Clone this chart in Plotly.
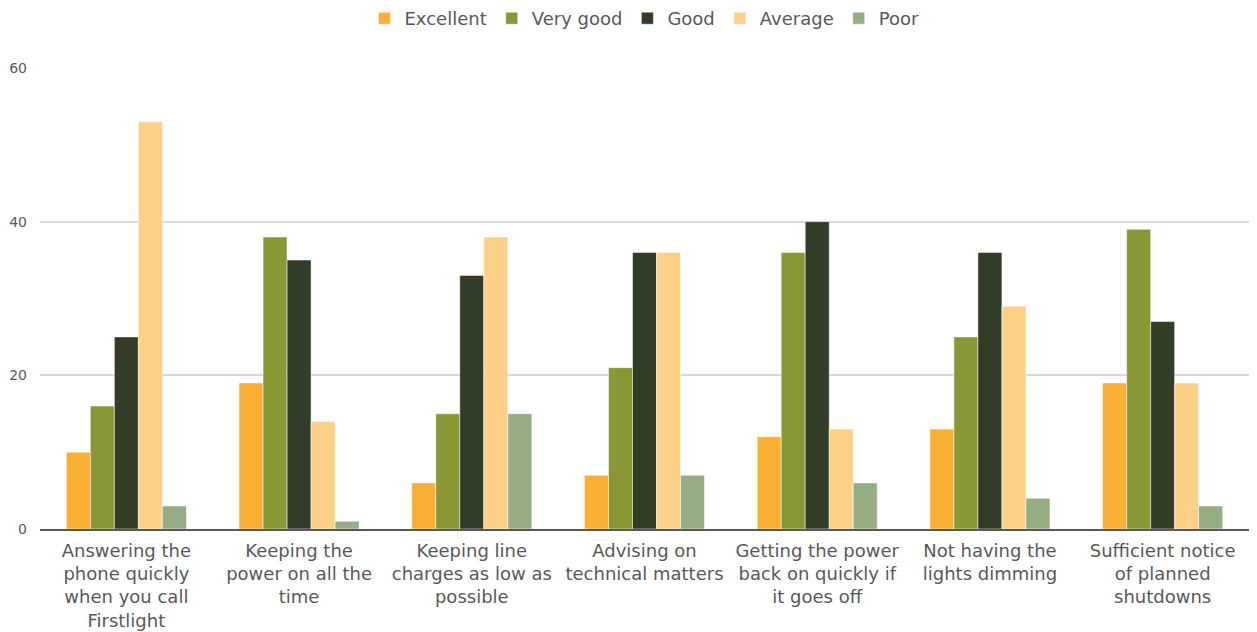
import plotly.graph_objects as go

categories = [
    "Answering the<br>phone quickly<br>when you call<br>Firstlight",
    "Keeping the<br>power on all the<br>time",
    "Keeping line<br>charges as low as<br>possible",
    "Advising on<br>technical matters",
    "Getting the power<br>back on quickly if<br>it goes off",
    "Not having the<br>lights dimming",
    "Sufficient notice<br>of planned<br>shutdowns",
]
excellent = [10, 19, 6, 7, 12, 13, 19]
very_good = [16, 38, 15, 21, 36, 25, 39]
good = [25, 35, 33, 36, 40, 36, 27]
average = [53, 14, 38, 36, 13, 29, 19]
poor = [3, 1, 15, 7, 6, 4, 3]

series = [
    ("Excellent", excellent, "#F9AE34"),
    ("Very good", very_good, "#8A9735"),
    ("Good", good, "#323D28"),
    ("Average", average, "#FDD088"),
    ("Poor", poor, "#94AD82"),
]

fig = go.Figure()
for name, vals, color in series:
    fig.add_trace(go.Bar(
        x=categories, y=vals, name=name,
        marker=dict(color=color, line=dict(color="white", width=0.5)),
    ))

font_family = "DejaVu Sans, sans-serif"
fig.update_layout(
    width=1257, height=632,
    margin=dict(l=40, r=8, t=68, b=103, autoexpand=False),
    plot_bgcolor="white", paper_bgcolor="white",
    barmode="group", bargap=0.305, bargroupgap=0,
    font=dict(family=font_family, color="#595959"),
    legend=dict(orientation="h", x=0.5, xanchor="center", y=1.0, yanchor="top",
                yref="container", font=dict(size=18, color="#595959"),
                itemwidth=30, traceorder="normal"),
    showlegend=True,
)
fig.update_yaxes(range=[0, 60], dtick=20, showgrid=True, gridcolor="#D9D9D9", gridwidth=1.5,
                 zeroline=False, showline=False, tickfont=dict(size=14, color="#595959"),
                 ticks="", ticklabelstandoff=12, automargin=False)
fig.update_xaxes(showline=True, linecolor="#595959", linewidth=2, ticks="",
                 tickfont=dict(size=18, color="#595959"), tickangle=0,
                 ticklabelstandoff=4, automargin=False)

fig.write_html("out.html")
